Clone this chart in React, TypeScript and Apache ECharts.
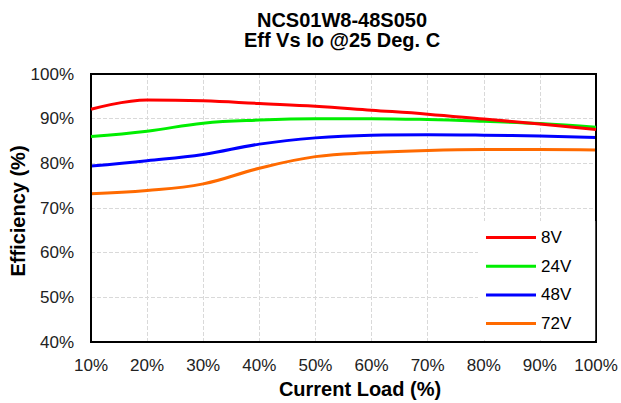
import React, { useEffect, useRef } from "react";
import * as echarts from "echarts";

const loads = [10, 20, 30, 40, 50, 60, 70, 80, 90, 100];
const seriesNames = ["8V", "24V", "48V", "72V"];
const eff8V = [92.1, 94.2, 94.0, 93.4, 92.8, 91.9, 91.0, 89.9, 88.8, 87.6];
const eff24V = [86.0, 87.2, 89.0, 89.7, 90.0, 90.0, 89.8, 89.4, 88.9, 88.1];
const eff48V = [79.4, 80.6, 82.0, 84.3, 85.7, 86.3, 86.4, 86.3, 86.1, 85.8];
const eff72V = [73.2, 73.9, 75.4, 78.9, 81.5, 82.4, 82.9, 83.1, 83.1, 83.0];
const colors = ["#ff0000", "#00ee00", "#0000ff", "#ff6a00"];
const titleText = "NCS01W8-48S050\nEff Vs Io @25 Deg. C";

const FONT = "'Liberation Sans', Arial, sans-serif";

export default function App() {
  const ref = useRef<HTMLDivElement>(null);
  useEffect(() => {
    document.body.style.margin = "0";
    if (!ref.current) return;
    const chart = echarts.init(ref.current, undefined, { renderer: "svg" });
    const values = [eff8V, eff24V, eff48V, eff72V];
    chart.setOption({
      animation: false,
      backgroundColor: "#ffffff",
      textStyle: { fontFamily: FONT },
      graphic: [
        {
          type: "text",
          x: 342,
          y: 30,
          style: {
            text: titleText,
            textAlign: "center",
            textVerticalAlign: "middle",
            fontFamily: FONT,
            fontWeight: "bold",
            fontSize: 20,
            lineHeight: 20.5,
            fill: "#000",
          },
          z: 10,
        },
      ],
      grid: {
        left: 91,
        right: 25,
        top: 74,
        bottom: 61,
        show: true,
        borderColor: "#000",
        borderWidth: 2,
        backgroundColor: "transparent",
        outerBoundsMode: "none",
        containLabel: false,
        z: 3,
      },
      legend: {
        orient: "vertical",
        left: 478,
        top: 221,
        padding: [8, 24, 8, 8],
        backgroundColor: "#ffffff",
        itemWidth: 50,
        itemHeight: 3,
        itemGap: 11.7,
        icon: "rect",
        data: seriesNames,
        textStyle: { fontFamily: FONT, fontSize: 17, color: "#000" },
        z: 5,
      },
      xAxis: {
        type: "value",
        min: 10,
        max: 100,
        interval: 10,
        name: "Current Load (%)",
        nameLocation: "middle",
        nameGap: 37,
        nameMoveOverlap: false,
        nameTextStyle: {
          fontFamily: FONT,
          fontWeight: "bold",
          fontSize: 20,
          color: "#000",
          padding: [0, 0, 0, 33],
        },
        axisLine: { show: false },
        axisTick: { show: false },
        axisLabel: {
          formatter: "{value}%",
          fontFamily: FONT,
          fontSize: 17,
          color: "#222",
          margin: 15,
        },
        splitLine: {
          show: true,
          lineStyle: { color: "#d9d9d9", type: "dashed", width: 1 },
        },
      },
      yAxis: {
        type: "value",
        min: 40,
        max: 100,
        interval: 10,
        name: "Efficiency (%)",
        nameLocation: "middle",
        nameGap: 63,
        nameMoveOverlap: false,
        nameTextStyle: {
          fontFamily: FONT,
          fontWeight: "bold",
          fontSize: 20,
          color: "#000",
          padding: [0, 6, 0, 0],
        },
        axisLine: { show: false },
        axisTick: { show: false },
        axisLabel: {
          formatter: "{value}%",
          fontFamily: FONT,
          fontSize: 17,
          color: "#222",
          margin: 17,
        },
        splitLine: {
          show: true,
          lineStyle: { color: "#d9d9d9", type: "dashed", width: 1 },
        },
      },
      series: seriesNames.map((n, i) => ({
        name: n,
        type: "line",
        smooth: 0.4,
        showSymbol: false,
        symbol: "none",
        color: colors[i],
        lineStyle: { color: colors[i], width: 3 },
        data: loads.map((x, j) => [x, values[i][j]]),
        z: 4 - i,
      })),
    });
    return () => chart.dispose();
  }, []);
  return <div ref={ref} style={{ width: 621, height: 403 }} />;
}
